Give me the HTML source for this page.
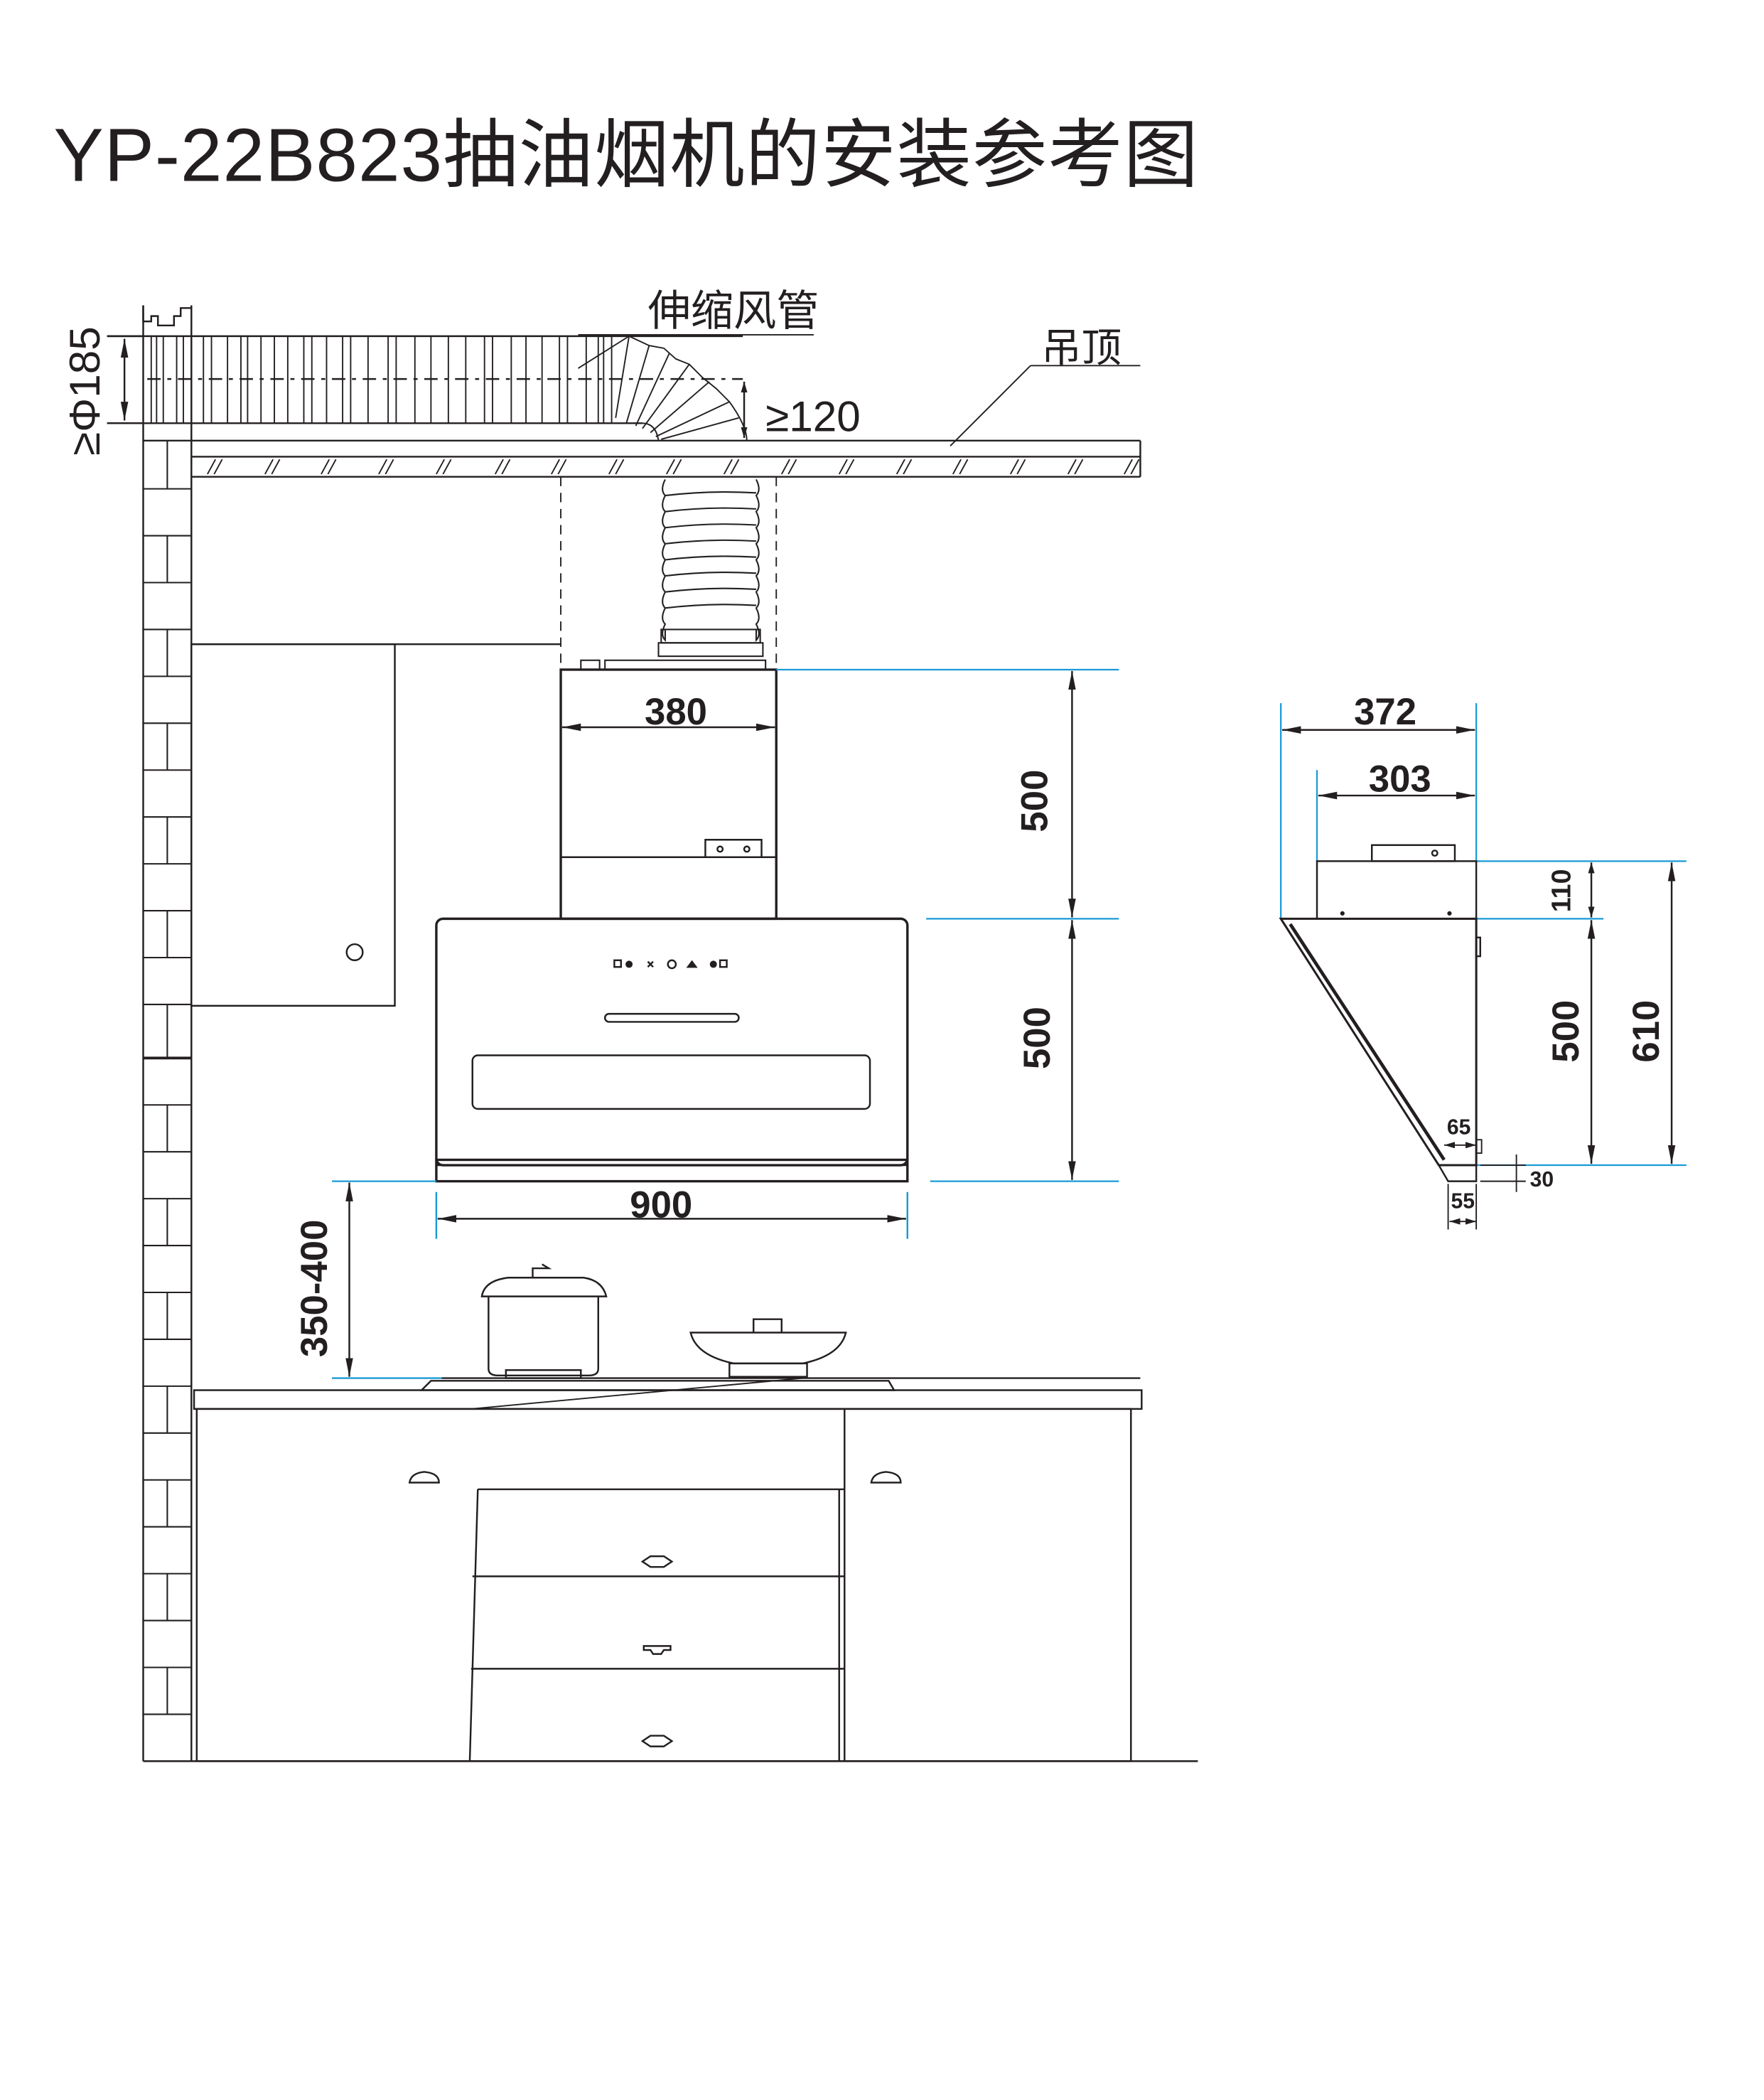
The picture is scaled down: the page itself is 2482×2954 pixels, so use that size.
<!DOCTYPE html>
<html><head><meta charset="utf-8"><style>
html,body{margin:0;padding:0;background:#fff;}
svg{display:block;}
text{font-family:"Liberation Sans","Noto Sans CJK SC",sans-serif;fill:#231f20;}
</style></head><body>
<svg width="2482" height="2954" viewBox="0 0 1318 1568" preserveAspectRatio="none" xmlns="http://www.w3.org/2000/svg">
<defs>
<marker id="a" viewBox="0 0 10 10" refX="10" refY="5" markerWidth="8" markerHeight="8" orient="auto-start-reverse" markerUnits="userSpaceOnUse"><path d="M0,2 L10,5 L0,8 z" fill="#231f20"/></marker>
<marker id="b" viewBox="0 0 10 10" refX="10" refY="5" markerWidth="14" markerHeight="14" orient="auto-start-reverse" markerUnits="userSpaceOnUse"><path d="M0,3 L10,5 L0,7 z" fill="#231f20"/></marker>
</defs>
<text x="40" y="135" font-size="56" letter-spacing="0.5">YP-22B823抽油烟机的安装参考图</text>

<g stroke="#231f20" fill="none" stroke-width="1.3">
<line x1="107" y1="228" x2="107" y2="1315"/>
<line x1="143" y1="228" x2="143" y2="1315"/>
<path d="M107,228 V240 H113 V236 H118 V243 H130 V236 H135 V230 H143"/>
<g stroke-width="1.1">
<line x1="107" y1="365" x2="143" y2="365"/><line x1="107" y1="400" x2="143" y2="400"/>
<line x1="107" y1="435" x2="143" y2="435"/><line x1="107" y1="470" x2="143" y2="470"/>
<line x1="107" y1="505" x2="143" y2="505"/><line x1="107" y1="540" x2="143" y2="540"/>
<line x1="107" y1="575" x2="143" y2="575"/><line x1="107" y1="610" x2="143" y2="610"/>
<line x1="107" y1="645" x2="143" y2="645"/><line x1="107" y1="680" x2="143" y2="680"/>
<line x1="107" y1="715" x2="143" y2="715"/><line x1="107" y1="750" x2="143" y2="750"/>
<line x1="107" y1="790" x2="143" y2="790" stroke-width="2"/><line x1="107" y1="825" x2="143" y2="825"/>
<line x1="107" y1="860" x2="143" y2="860"/><line x1="107" y1="895" x2="143" y2="895"/>
<line x1="107" y1="930" x2="143" y2="930"/><line x1="107" y1="965" x2="143" y2="965"/>
<line x1="107" y1="1000" x2="143" y2="1000"/><line x1="107" y1="1035" x2="143" y2="1035"/>
<line x1="107" y1="1070" x2="143" y2="1070"/><line x1="107" y1="1105" x2="143" y2="1105"/>
<line x1="107" y1="1140" x2="143" y2="1140"/><line x1="107" y1="1175" x2="143" y2="1175"/>
<line x1="107" y1="1210" x2="143" y2="1210"/><line x1="107" y1="1245" x2="143" y2="1245"/>
<line x1="107" y1="1280" x2="143" y2="1280"/>
<line x1="125" y1="329" x2="125" y2="365"/><line x1="125" y1="400" x2="125" y2="435"/>
<line x1="125" y1="470" x2="125" y2="505"/><line x1="125" y1="540" x2="125" y2="575"/>
<line x1="125" y1="610" x2="125" y2="645"/><line x1="125" y1="680" x2="125" y2="715"/>
<line x1="125" y1="750" x2="125" y2="790"/><line x1="125" y1="825" x2="125" y2="860"/>
<line x1="125" y1="895" x2="125" y2="930"/><line x1="125" y1="965" x2="125" y2="1000"/>
<line x1="125" y1="1035" x2="125" y2="1070"/><line x1="125" y1="1105" x2="125" y2="1140"/>
<line x1="125" y1="1175" x2="125" y2="1210"/><line x1="125" y1="1245" x2="125" y2="1280"/>
</g>
<line x1="80" y1="251" x2="555" y2="251"/>
<line x1="80" y1="316" x2="480" y2="316"/>
<line x1="110" y1="283" x2="555" y2="283" stroke-dasharray="10,5,3,5"/>
<g stroke-width="1">
<path d="M113,251V316M117,251V316M122,251V316M132,251V316M137,251V316M152,251V316M158,251V316M170,251V316M180,251V316M185,251V316M195,251V316M205,251V316M215,251V316M227,251V316M233,251V316M244,251V316M256,251V316M262,251V316M275,251V316M290,251V316M296,251V316M310,251V316M322,251V316M335,251V316M348,251V316M362,251V316M368,251V316M382,251V316M393,251V316M405,251V316M418,251V316M424,251V316M438,251V316M447,251V316M451,251V316M457,251V316"/>
<path d="M480,316 Q490,316 492,329"/>
<path d="M470,251 L485,258 L496,260 L505,268 L515,272 L525,282 L535,290 L545,300 Q558,318 558,329"/>
<path d="M470,251 L432,275"/>
<path d="M470,251 L460,312 M485,258 L468,316 M500,264 L475,318 M515,272 L480,320 M530,285 L486,323 M545,300 L490,326 M552,312 L494,328"/>
</g>
<line x1="107" y1="329" x2="852" y2="329"/>
<line x1="143" y1="341" x2="852" y2="341"/>
<line x1="143" y1="356" x2="852" y2="356"/>
<line x1="852" y1="329" x2="852" y2="356"/>
<g stroke-width="1">
<path d="M155,354 L161,343 M160,354 L166,343 M198,354 L204,343 M203,354 L209,343 M240,354 L246,343 M245,354 L251,343 M283,354 L289,343 M288,354 L294,343 M326,354 L332,343 M331,354 L337,343 M370,354 L376,343 M375,354 L381,343 M412,354 L418,343 M417,354 L423,343 M455,354 L461,343 M460,354 L466,343 M498,354 L504,343 M503,354 L509,343 M541,354 L547,343 M546,354 L552,343 M584,354 L590,343 M589,354 L595,343 M627,354 L633,343 M632,354 L638,343 M670,354 L676,343 M675,354 L681,343 M712,354 L718,343 M717,354 L723,343 M755,354 L761,343 M760,354 L766,343 M798,354 L804,343 M803,354 L809,343 M840,354 L846,343 M845,354 L851,343"/>
</g>
<line x1="432" y1="250" x2="608" y2="250" stroke-width="1"/>
<line x1="770" y1="273" x2="852" y2="273" stroke-width="1"/>
<line x1="770" y1="273" x2="710" y2="333" stroke-width="1"/>
<line x1="93" y1="253" x2="93" y2="314" marker-start="url(#b)" marker-end="url(#b)"/>
<line x1="80" y1="251" x2="107" y2="251"/><line x1="80" y1="316" x2="107" y2="316"/>
<line x1="556" y1="285" x2="556" y2="327" marker-start="url(#a)" marker-end="url(#a)"/>
<line x1="419" y1="356" x2="419" y2="500" stroke-dasharray="7,5" stroke-width="1"/>
<line x1="580" y1="356" x2="580" y2="500" stroke-dasharray="7,5" stroke-width="1"/>
<g stroke-width="1.1">
<path d="M497,358 q-4,8 0,12 q-4,8 0,12 q-4,8 0,12 q-4,8 0,12 q-4,8 0,12 q-4,8 0,12 q-4,8 0,12 q-4,8 0,12 q-4,8 0,12 q-4,8 0,12 V470"/>
<path d="M565,358 q4,8 0,12 q4,8 0,12 q4,8 0,12 q4,8 0,12 q4,8 0,12 q4,8 0,12 q4,8 0,12 q4,8 0,12 q4,8 0,12 q4,8 0,12 V470"/>
<path d="M497,370 Q531,366 565,368 M497,382 Q531,378 565,380 M497,394 Q531,390 565,392 M497,406 Q531,402 565,404 M497,418 Q531,414 565,416 M497,430 Q531,426 565,428 M497,442 Q531,438 565,440 M497,454 Q531,450 565,452"/>
<rect x="494" y="470" width="74" height="10"/>
<rect x="492" y="480" width="78" height="10"/>
<rect x="434" y="493" width="14" height="7"/>
<rect x="452" y="493" width="120" height="7"/>
</g>
<line x1="143" y1="481" x2="419" y2="481"/>
<rect x="143" y="481" width="152" height="270"/>
<circle cx="265" cy="711" r="6"/>
<rect x="419" y="500" width="161" height="186" stroke-width="1.8"/>
<line x1="419" y1="640" x2="580" y2="640"/>
<path d="M527,640 V627 H569 V640"/>
<circle cx="538" cy="634" r="2"/><circle cx="558" cy="634" r="2"/>
<rect x="326" y="686" width="352" height="184" rx="5" stroke-width="1.8"/>
<rect x="326" y="866" width="352" height="16" stroke-width="1.8"/>
<line x1="326" y1="870" x2="678" y2="870"/>
<rect x="452" y="757" width="100" height="6" rx="3"/>
<rect x="353" y="788" width="297" height="40" rx="4"/>
<rect x="459" y="717" width="5" height="5"/><circle cx="470" cy="720" r="2" fill="#231f20"/>
<path d="M484,718 l4,4 M488,718 l-4,4"/><circle cx="502" cy="720" r="3"/>
<path d="M514,722 l3,-4 l3,4z" fill="#231f20"/>
<circle cx="533" cy="720" r="2" fill="#231f20"/><rect x="538" y="717" width="5" height="5"/>
</g>

<g stroke="#1a9ad6" stroke-width="1.2">
<line x1="580" y1="500" x2="836" y2="500"/>
<line x1="692" y1="686" x2="836" y2="686"/>
<line x1="695" y1="882" x2="836" y2="882"/>
<line x1="248" y1="882" x2="326" y2="882"/>
<line x1="248" y1="1029" x2="330" y2="1029"/>
<line x1="1103" y1="643" x2="1260" y2="643"/>
<line x1="957" y1="686" x2="1198" y2="686"/>
<line x1="1103" y1="870" x2="1260" y2="870"/>
<line x1="957" y1="525" x2="957" y2="686"/>
<line x1="1103" y1="525" x2="1103" y2="643"/>
<line x1="984" y1="575" x2="984" y2="643"/>
</g>

<g stroke="#231f20" fill="none" stroke-width="1.3">
<line x1="801" y1="501" x2="801" y2="685" marker-start="url(#b)" marker-end="url(#b)"/>
<line x1="801" y1="687" x2="801" y2="881" marker-start="url(#b)" marker-end="url(#b)"/>
<line x1="420" y1="543" x2="579" y2="543" marker-start="url(#b)" marker-end="url(#b)"/>
<line x1="327" y1="910" x2="677" y2="910" marker-start="url(#b)" marker-end="url(#b)"/>
<line x1="326" y1="890" x2="326" y2="925" stroke="#1a9ad6"/>
<line x1="678" y1="890" x2="678" y2="925" stroke="#1a9ad6"/>
<line x1="261" y1="883" x2="261" y2="1028" marker-start="url(#b)" marker-end="url(#b)"/>
<path d="M365,968 V1022 Q365,1027 372,1027 H440 Q447,1027 447,1022 V968"/>
<path d="M360,968 Q362,956 380,954 H436 Q450,956 453,968 Z"/>
<path d="M398,954 V947 H410 L405,944"/>
<rect x="378" y="1023" width="56" height="6"/>
<path d="M516,995 H632 Q628,1012 600,1018 H548 Q520,1012 516,995 Z"/>
<path d="M563,995 V985 H584 V995"/>
<rect x="545" y="1018" width="58" height="10"/>
<line x1="330" y1="1029" x2="852" y2="1029"/>
<path d="M315,1038 L322,1031 H664 L668,1038 Z"/>
<rect x="145" y="1038" width="708" height="14"/>
<line x1="352" y1="1052" x2="600" y2="1029" stroke-width="1"/>
<rect x="147" y="1052" width="698" height="263"/>
<line x1="631" y1="1052" x2="631" y2="1315"/><line x1="627" y1="1112" x2="627" y2="1315"/>
<path d="M357,1112 L351,1315"/>
<line x1="357" y1="1112" x2="631" y2="1112"/>
<line x1="353" y1="1177" x2="631" y2="1177"/>
<line x1="352" y1="1246" x2="631" y2="1246"/>
<line x1="107" y1="1315" x2="895" y2="1315"/>
<path d="M306,1107 H328 Q328,1100 317,1099 Q307,1100 306,1107 Z"/>
<path d="M651,1107 H673 Q673,1100 662,1099 Q652,1100 651,1107 Z"/>
<path d="M480,1166 l6,-4 h10 l6,4 l-6,4 h-10 z"/>
<path d="M481,1229 h20 v3 h-5 l-2,3 h-6 l-2,-3 h-5 z"/>
<path d="M480,1300 l6,-4 h10 l6,4 l-6,4 h-10 z"/>

<line x1="958" y1="545" x2="1102" y2="545" marker-start="url(#b)" marker-end="url(#b)"/>
<line x1="985" y1="594" x2="1102" y2="594" marker-start="url(#b)" marker-end="url(#b)"/>
<rect x="984" y="643" width="119" height="43"/>
<rect x="1025" y="631" width="62" height="12"/>
<circle cx="1072" cy="637" r="2"/>
<circle cx="1003" cy="682" r="1" fill="#231f20"/><circle cx="1083" cy="682" r="1" fill="#231f20"/>
<path d="M957,686 H1103 V870 H1075 Z" stroke-width="1.6"/>
<path d="M964,690 L1079,866" stroke-width="2.5"/>
<path d="M1075,870 L1082,882 H1103 V870"/>
<rect x="1103" y="700" width="3" height="14"/>
<line x1="1189" y1="644" x2="1189" y2="685" marker-start="url(#a)" marker-end="url(#a)"/>
<line x1="1189" y1="687" x2="1189" y2="869" marker-start="url(#b)" marker-end="url(#b)"/>
<line x1="1249" y1="644" x2="1249" y2="869" marker-start="url(#b)" marker-end="url(#b)"/>
<line x1="1079" y1="855" x2="1103" y2="855" marker-start="url(#a)" marker-end="url(#a)" stroke-width="1"/>
<rect x="1103" y="851" width="4" height="10" stroke-width="1"/>
<line x1="1083" y1="912" x2="1103" y2="912" marker-start="url(#a)" marker-end="url(#a)" stroke-width="1"/>
<line x1="1082" y1="884" x2="1082" y2="918" stroke-width="1"/>
<line x1="1103" y1="884" x2="1103" y2="918" stroke-width="1"/>
<line x1="1133" y1="862" x2="1133" y2="890" stroke-width="1"/>
<line x1="1106" y1="870" x2="1140" y2="870" stroke-width="1"/>
<line x1="1106" y1="882" x2="1140" y2="882" stroke-width="1"/>
</g>

<text x="484" y="243" font-size="32">伸缩风管</text>
<text x="778" y="270" font-size="30">吊顶</text>
<text x="572" y="322" font-size="32">≥120</text>
<text transform="translate(66,292) rotate(-90)" font-size="32" text-anchor="middle" dominant-baseline="middle">≥Φ185</text>
<text x="505" y="541" font-size="28" font-weight="bold" text-anchor="middle">380</text>
<text x="494" y="909" font-size="28" font-weight="bold" text-anchor="middle">900</text>
<text transform="translate(775,598) rotate(-90)" font-size="28" font-weight="bold" text-anchor="middle" dominant-baseline="middle">500</text>
<text transform="translate(777,775) rotate(-90)" font-size="28" font-weight="bold" text-anchor="middle" dominant-baseline="middle">500</text>
<text transform="translate(237,962) rotate(-90)" font-size="28" font-weight="bold" text-anchor="middle" dominant-baseline="middle">350-400</text>
<text x="1035" y="541" font-size="28" font-weight="bold" text-anchor="middle">372</text>
<text x="1046" y="591" font-size="28" font-weight="bold" text-anchor="middle">303</text>
<text transform="translate(1168,665) rotate(-90)" font-size="20" font-weight="bold" text-anchor="middle" dominant-baseline="middle">110</text>
<text transform="translate(1172,770) rotate(-90)" font-size="28" font-weight="bold" text-anchor="middle" dominant-baseline="middle">500</text>
<text transform="translate(1232,770) rotate(-90)" font-size="28" font-weight="bold" text-anchor="middle" dominant-baseline="middle">610</text>
<text x="1090" y="847" font-size="16" font-weight="bold" text-anchor="middle">65</text>
<text x="1152" y="886" font-size="16" font-weight="bold" text-anchor="middle">30</text>
<text x="1093" y="902" font-size="16" font-weight="bold" text-anchor="middle">55</text>
</svg>
</body></html>
